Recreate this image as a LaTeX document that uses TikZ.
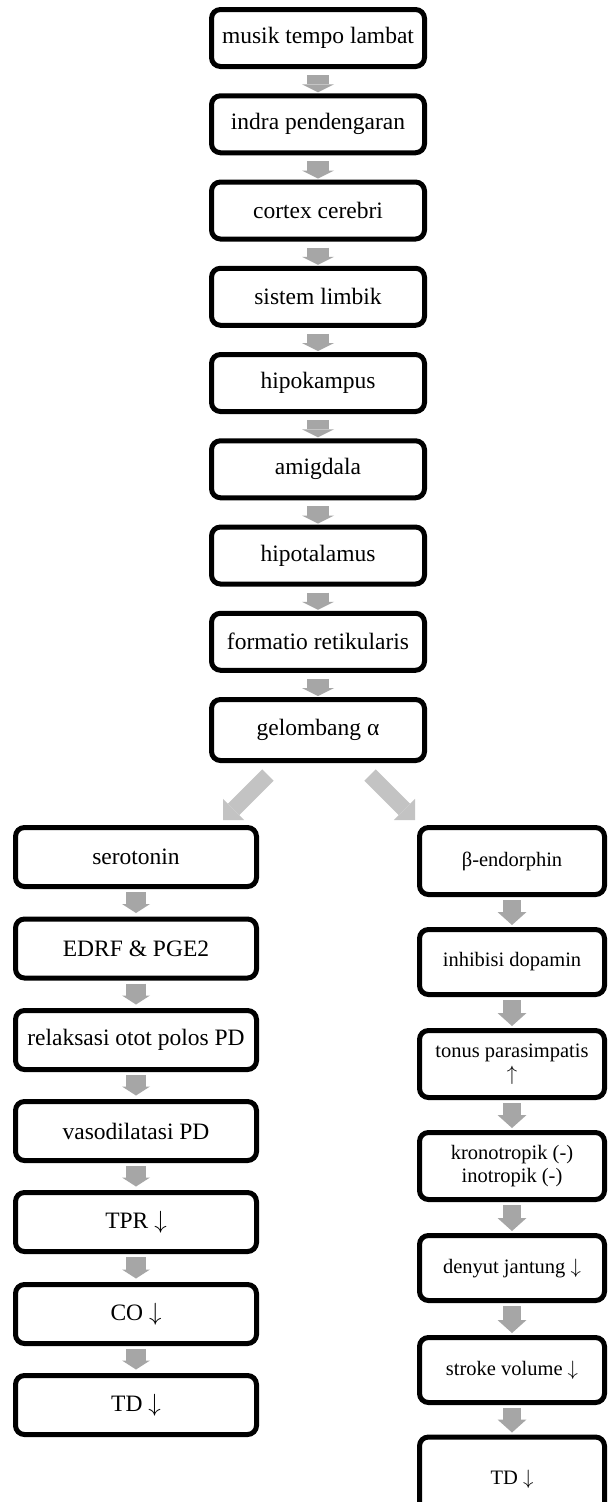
\documentclass[tikz,border=0pt]{standalone}
\usepackage{fontspec}
\setmainfont{Liberation Serif}
\usetikzlibrary{arrows.meta}
\definecolor{arrowgray}{HTML}{A6A6A6}
\definecolor{diaggray}{HTML}{C3C3C3}
\newcommand{\dn}{\ensuremath{\downarrow}}
\newcommand{\upa}{\ensuremath{\uparrow}}
\begin{document}
\begin{tikzpicture}[x=1pt,y=-1pt,
  box/.style={draw=black, line width=5pt, rounded corners=9pt, inner sep=0pt, align=center, fill=white},
  cbox/.style={box, minimum width=213pt, minimum height=57pt, font=\fontsize{23.5}{27}\selectfont},
  lbox/.style={box, minimum width=241pt, minimum height=59pt, font=\fontsize{23.5}{27}\selectfont},
  rbox/.style={box, minimum width=185pt, font=\fontsize{20.5}{23.5}\selectfont},
  carrow/.style={draw=arrowgray, line width=22pt, -{Triangle[width=32pt,length=8pt,line width=0pt]}, shorten <=6pt, shorten >=1pt},
  larrow/.style={draw=arrowgray, line width=20pt, -{Triangle[width=28pt,length=9pt,line width=0pt]}, shorten <=3pt, shorten >=3.5pt},
  rarrow/.style={draw=arrowgray, line width=18pt, -{Triangle[width=29pt,length=13pt,line width=0pt]}, shorten <=3pt, shorten >=2pt},
  diag/.style={draw=diaggray, line width=16pt, -{Triangle[width=30pt,length=15pt,line width=0pt]}}
]
\useasboundingbox (0,0) rectangle (608,1502);
\fill[white] (0,0) rectangle (608,1502);
\clip (0,0) rectangle (608,1502);

% centre column
\node[cbox] (c1) at (318,38) {musik tempo lambat};
\node[cbox] (c2) at (318,124.25) {indra pendengaran};
\node[cbox] (c3) at (318,210.5) {cortex cerebri};
\node[cbox] (c4) at (318,296.75) {sistem limbik};
\node[cbox] (c5) at (318,383) {hipokampus};
\node[cbox] (c6) at (318,469.25) {amigdala};
\node[cbox] (c7) at (318,555.5) {hipotalamus};
\node[cbox] (c8) at (318,641.75) {formatio retikularis};
\node[cbox, minimum height=61pt] (c9) at (318,730) {gelombang α};

% left column
\node[lbox] (l1) at (136,857) {serotonin};
\node[lbox] (l2) at (136,948.5) {EDRF \& PGE2};
\node[lbox] (l3) at (136,1040) {relaksasi otot polos PD};
\node[lbox] (l4) at (136,1131) {vasodilatasi PD};
\node[lbox] (l5) at (136,1222) {TPR \dn};
\node[lbox] (l6) at (136,1314) {CO \dn};
\node[lbox] (l7) at (136,1405) {TD \dn};

% right column
\node[rbox, minimum height=67pt] (r1) at (512,861) {β-endorphin};
\node[rbox, minimum height=65pt] (r2) at (512,962) {inhibisi dopamin};
\node[rbox, minimum height=67pt] (r3) at (512,1064) {tonus parasimpatis\\\upa};
\node[rbox, minimum height=67pt] (r4) at (512,1166) {kronotropik (-)\\inotropik (-)};
\node[rbox, minimum height=65pt] (r5) at (512,1268) {denyut jantung \dn};
\node[rbox, minimum height=65pt] (r6) at (512,1370) {stroke volume \dn};
\node[rbox, minimum height=76pt, text depth=0pt] (r7) at (512,1475) {\raisebox{-4pt}{TD \dn}};

% connectors
\foreach \a/\b in {c1/c2,c2/c3,c3/c4,c4/c5,c5/c6,c6/c7,c7/c8,c8/c9}
  \draw[carrow] (\a) -- (\b);
\foreach \a/\b in {l1/l2,l2/l3,l3/l4,l4/l5,l5/l6,l6/l7}
  \draw[larrow] (\a) -- (\b);
\foreach \a/\b in {r1/r2,r2/r3,r3/r4,r4/r5,r5/r6,r6/r7}
  \draw[rarrow] (\a) -- (\b);

\draw[diag] ([xshift=-50pt,yshift=-12pt]c9.south) -- ([xshift=87pt,yshift=5pt]l1.north);
\draw[diag] ([xshift=52pt,yshift=-12pt]c9.south) -- ([xshift=-97pt,yshift=5pt]r1.north);
\end{tikzpicture}
\end{document}
